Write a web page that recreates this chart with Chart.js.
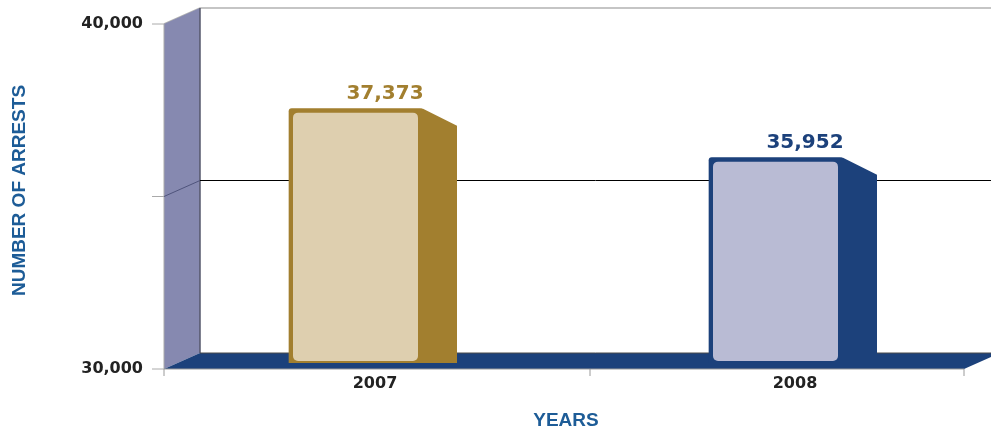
<!DOCTYPE html>
<html>
<head>
<meta charset="utf-8">
<title>Number of arrests</title>
<script src="https://cdn.jsdelivr.net/npm/chart.js@4.4.1/dist/chart.umd.min.js"></script>
<style>
	html, body { margin: 0; padding: 0; background: #fff; }
	#wrap { width: 991px; height: 433px; }
</style>
</head>
<body>
<div id="wrap"><canvas id="myChart" width="991" height="433"></canvas></div>
<script>

var years = ['2007', '2008'];
var arrests = [37373, 35952];
var yTicks = [30000, 35000, 40000];
var yLabeled = [30000, 40000];

var frameColors = ['#A27F2F', '#1C417B'];
var faceColors = ['#DECFAF', '#B9BBD4'];
var titleColor = '#1D5C97';

function fmt(n){
	return Number(n).toLocaleString('en-US');
}

// walls, floor and back gridlines, drawn around the scales
var box3d = {
	id: 'box3d',

	beforeDatasetsDraw(chart){
		const ctx = chart.ctx;
		const a = chart.chartArea;
		const ys = chart.scales.y;
		const xs = chart.scales.x;
		const fx = a.left + 18, bx = a.left + 54;
		const fr = a.right - 22, br = fr + 36;
		const top = ys.getPixelForValue(ys.max);
		const bot = ys.getPixelForValue(ys.min);

		ctx.save();

		// back wall top edge
		ctx.strokeStyle = '#b3b3b3';
		ctx.lineWidth = 1.5;
		ctx.beginPath();
		ctx.moveTo(fx, top + 6);
		ctx.lineTo(bx, top - 10);
		ctx.lineTo(chart.width, top - 10);
		ctx.stroke();

		// left wall
		ctx.fillStyle = '#8689B0';
		ctx.beginPath();
		ctx.moveTo(fx, top + 6);
		ctx.lineTo(bx, top - 10);
		ctx.lineTo(bx, bot - 10);
		ctx.lineTo(fx, bot + 6);
		ctx.closePath();
		ctx.fill();

		ctx.strokeStyle = '#aaaaaa';
		ctx.lineWidth = 1;
		ctx.beginPath();
		ctx.moveTo(fx, top + 6);
		ctx.lineTo(fx, bot + 6);
		ctx.stroke();

		ctx.strokeStyle = '#55576b';
		ctx.lineWidth = 1.5;
		ctx.beginPath();
		ctx.moveTo(bx, top - 10);
		ctx.lineTo(bx, bot - 10);
		ctx.stroke();

		// gridlines between min and max
		yTicks.forEach(function(v){
			if(v <= ys.min || v >= ys.max) return;
			const y = ys.getPixelForValue(v);
			ctx.strokeStyle = '#4f547c';
			ctx.lineWidth = 1;
			ctx.beginPath();
			ctx.moveTo(fx, y + 6);
			ctx.lineTo(bx, y - 10);
			ctx.stroke();
			ctx.strokeStyle = '#000';
			ctx.beginPath();
			ctx.moveTo(bx, y - 10);
			ctx.lineTo(chart.width, y - 10);
			ctx.stroke();
		});

		// y tick marks on the front plane
		ctx.strokeStyle = '#aaaaaa';
		ctx.lineWidth = 1;
		yTicks.forEach(function(v){
			const y = ys.getPixelForValue(v) + 6;
			ctx.beginPath();
			ctx.moveTo(fx - 12, y);
			ctx.lineTo(fx, y);
			ctx.stroke();
		});

		// floor
		ctx.fillStyle = '#1C417B';
		ctx.beginPath();
		ctx.moveTo(fx, bot + 6);
		ctx.lineTo(bx, bot - 10);
		ctx.lineTo(br, bot - 10);
		ctx.lineTo(fr, bot + 6);
		ctx.closePath();
		ctx.fill();

		ctx.strokeStyle = '#4a4a4a';
		ctx.beginPath();
		ctx.moveTo(bx, bot - 10);
		ctx.lineTo(chart.width, bot - 10);
		ctx.stroke();

		ctx.strokeStyle = '#9a9a9a';
		ctx.beginPath();
		ctx.moveTo(fx, bot + 6);
		ctx.lineTo(fr, bot + 6);
		ctx.stroke();

		// x tick marks
		const mid = (xs.getPixelForValue(0) + xs.getPixelForValue(1)) / 2 + 24;
		[fx, mid, fr].forEach(function(x){
			ctx.beginPath();
			ctx.moveTo(x, bot + 6);
			ctx.lineTo(x, bot + 13);
			ctx.stroke();
		});

		ctx.restore();
	},

	afterDatasetsDraw(chart){
		const ctx = chart.ctx;
		const ys = chart.scales.y;
		const meta = chart.getDatasetMeta(0);
		const floorY = ys.getPixelForValue(ys.min);

		ctx.save();
		meta.data.forEach(function(el, i){
			const w = el.width;
			const xl = el.x - w / 2, xr = el.x + w / 2;
			const base = Math.min(el.base, floorY);

			// side face
			ctx.fillStyle = frameColors[i];
			ctx.beginPath();
			ctx.moveTo(xr - 2, el.y);
			ctx.lineTo(xr, el.y);
			ctx.lineTo(xr + 34, el.y + 17);
			ctx.lineTo(xr + 34, base);
			ctx.lineTo(xr - 2, base);
			ctx.closePath();
			ctx.fill();

			// lighter front face inside the frame
			ctx.fillStyle = faceColors[i];
			ctx.beginPath();
			ctx.roundRect(xl + 4, el.y + 4, w - 9, base - el.y - 6, 5);
			ctx.fill();

			// value
			ctx.fillStyle = frameColors[i];
			ctx.font = 'bold 20px "DejaVu Sans"';
			ctx.textAlign = 'center';
			ctx.textBaseline = 'middle';
			ctx.fillText(fmt(arrests[i]), el.x + 29, el.y - 15);
		});
		ctx.restore();
	}
};

const ctx = document.getElementById('myChart').getContext('2d');
const chart = new Chart(ctx, {
	type: 'bar',

	data: {
		labels: years,
		datasets: [{
			label: 'Arrests',
			data: arrests,
			backgroundColor: frameColors,
			borderWidth: 0,
			borderRadius: 3,
			borderSkipped: false,
			barThickness: 134
		}]
	},

	options: {
		responsive: false,
		animation: false,
		layout: { padding: { left: 0, top: 18, right: 5, bottom: 0 } },
		plugins: {
			legend: { display: false },
			tooltip: { enabled: false }
		},
		scales: {
			x: {
				grid: { display: false, drawTicks: false },
				border: { display: false },
				ticks: {
					color: '#222',
					font: { family: 'DejaVu Sans', size: 16, weight: 'bold' },
					padding: 11,
					labelOffset: 19
				},
				title: {
					display: true,
					text: 'YEARS',
					color: titleColor,
					font: { family: 'Liberation Sans', size: 19, weight: 'bold' },
					padding: { top: 0, bottom: 1 }
				},
				afterFit: function(scale){ scale.height = 70; }
			},
			y: {
				min: 30000,
				max: 40000,
				beginAtZero: false,
				grid: { display: false, drawTicks: false },
				border: { display: false },
				afterBuildTicks: function(scale){
					scale.ticks = yTicks.map(function(v){ return { value: v }; });
				},
				ticks: {
					color: '#222',
					font: { family: 'DejaVu Sans', size: 16, weight: 'bold' },
					padding: 3,
					labelOffset: 6,
					callback: function(value){
						return yLabeled.indexOf(value) >= 0 ? fmt(value) : '';
					}
				},
				title: {
					display: true,
					text: 'NUMBER OF ARRESTS',
					color: titleColor,
					font: { family: 'Liberation Sans', size: 19, weight: 'bold' },
					padding: { top: 8, bottom: 0 }
				},
				afterFit: function(scale){ scale.width = 146; }
			}
		}
	},

	plugins: [box3d]
});

</script>
</body>
</html>
